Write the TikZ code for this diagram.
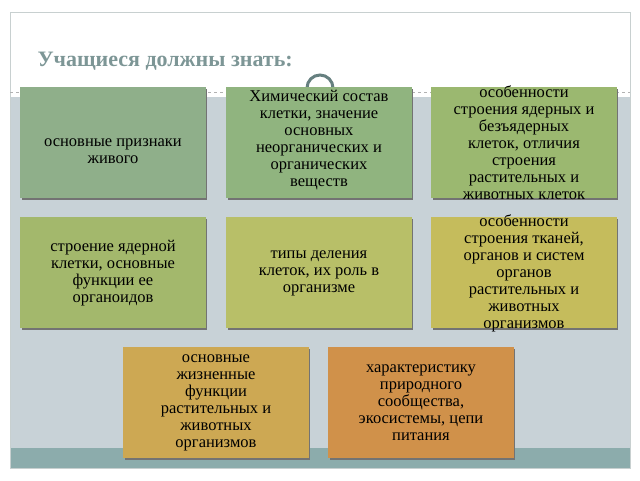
\documentclass[tikz,border=0pt]{standalone}
\usepackage{fontspec}
\setmainfont{Liberation Serif}
\begin{document}
\begin{tikzpicture}[x=1pt,y=-1pt]
\useasboundingbox (0,0) rectangle (640,480);
\fill[white] (0,0) rectangle (640,480);
\fill[color={rgb,255:red,200;green,210;blue,215}] (10,97) rectangle (630,448);
\fill[color={rgb,255:red,140;green,172;blue,172}] (10,448) rectangle (630,468);
\draw[color={rgb,255:red,200;green,208;blue,208}] (10,12) rectangle (630,468);
\draw[dashed,gray!60] (10,92) -- (630,92);
\node[circle,draw=gray!80!teal,line width=3pt,fill=white,minimum size=26pt,inner sep=0pt] (ring) at (320,88) {};
\node[anchor=west,font=\bfseries\fontsize{22}{24}\selectfont,text={rgb,255:red,125;green,150;blue,150}] (title) at (34,61) {Учащиеся должны знать:};
\def\B#1#2#3#4#5#6{\fill[black!55] (#1+2,#2+2) rectangle (#1+187,#2+113);
 \fill[color={rgb,255:#4}] (#1,#2) rectangle (#1+186,#2+111);
 \node[align=center,font=\fontsize{16.5}{17}\selectfont] (#5) at (#1+93,#2+#6) {#3};}
\B{20}{87}{основные признаки\\живого}{red,143;green,175;blue,138}{a}{64}
\B{226}{87}{Химический состав\\клетки, значение\\основных\\неорганических и\\органических\\веществ}{red,144;green,180;blue,127}{b}{53}
\B{431}{87}{особенности\\строения ядерных и\\безъядерных\\клеток, отличия\\строения\\растительных и\\животных клеток}{red,155;green,184;blue,112}{c}{56}
\B{20}{217}{строение ядерной\\клетки, основные\\функции ее\\органоидов}{red,163;green,184;blue,108}{d}{56}
\B{226}{217}{типы деления\\клеток, их роль в\\организме}{red,184;green,191;blue,104}{e}{56}
\B{431}{217}{особенности\\строения тканей,\\органов и систем\\органов\\растительных и\\животных\\организмов}{red,197;green,188;blue,92}{f}{56}
\B{123}{347}{основные\\жизненные\\функции\\растительных и\\животных\\организмов}{red,205;green,168;blue,83}{g}{56}
\B{328}{347}{характеристику\\природного\\сообщества,\\экосистемы, цепи\\питания}{red,208;green,145;blue,74}{h}{56}
\end{tikzpicture}
\end{document}
